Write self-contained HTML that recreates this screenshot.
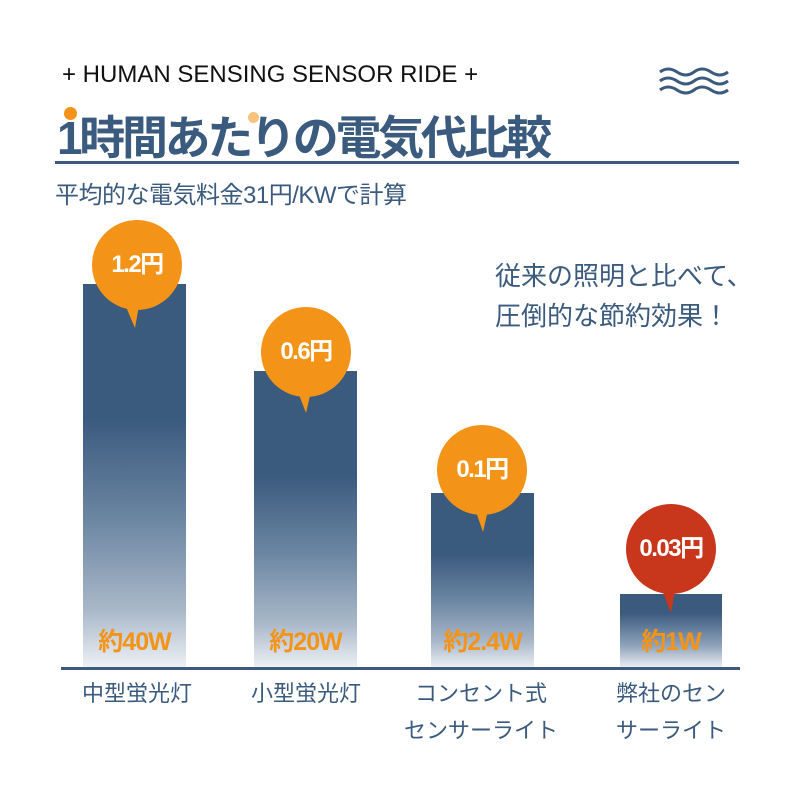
<!DOCTYPE html>
<html><head><meta charset="utf-8"><style>
body{margin:0;width:800px;height:800px;background:#fff;position:relative;overflow:hidden;font-family:"Liberation Sans","Noto Sans CJK JP",sans-serif;}
.a{position:absolute;white-space:nowrap;}
.bar{position:absolute;background:linear-gradient(#3a5a7e 0%,#3a5a7e 35%,#6d87a3 62%,#a9b8c9 85%,#eef1f5 100%);}
.c{position:absolute;width:90px;height:90px;border-radius:50%;background:#f39418;color:#fff;font-weight:bold;font-size:24px;line-height:90px;text-align:center;letter-spacing:-1.5px;}
.w{position:absolute;color:#f39418;font-weight:bold;font-size:25px;text-align:center;letter-spacing:-1px;}
.lab{position:absolute;color:#3a5a7e;font-size:22px;text-align:center;line-height:37px;}
</style></head><body>
<div class="a" style="left:62px;top:61px;font-size:24px;color:#111;">+ HUMAN SENSING SENSOR RIDE +</div>
<svg class="a" style="left:658px;top:66px" width="74" height="30"><g fill="none" stroke="#3a5a7e" stroke-width="3"><path d="M2 6q8-6 17 0t17 0t17 0t17 0"/><path d="M2 15q8-6 17 0t17 0t17 0t17 0"/><path d="M2 24q8-6 17 0t17 0t17 0t17 0"/></g></svg>
<div class="a" style="left:64px;top:107px;width:13px;height:13px;border-radius:50%;background:#f39418"></div>
<div class="a" style="left:248px;top:112px;width:11px;height:11px;border-radius:50%;background:#f8c27a"></div>
<div class="a" style="left:57px;top:102px;font-size:46px;font-weight:bold;color:#3a5a7e;letter-spacing:-3.3px;">1時間あたりの電気代比較</div>
<div class="a" style="left:55px;top:161px;width:684px;height:3px;background:#3a5a7e"></div>
<div class="a" style="left:55px;top:175px;font-size:24px;color:#3a5a7e;letter-spacing:-0.5px;">平均的な電気料金31円/KWで計算</div>
<div class="a" style="left:495px;top:256px;font-size:26px;color:#3a5a7e;line-height:40px;">従来の照明と比べて、<br>圧倒的な節約効果！</div>

<div class="bar" style="left:83px;top:284px;width:103px;height:384px"></div>
<div class="bar" style="left:254px;top:371px;width:103px;height:297px"></div>
<div class="bar" style="left:431px;top:493px;width:103px;height:175px"></div>
<div class="bar" style="left:620px;top:594px;width:102px;height:74px;background:linear-gradient(#3a5a7e 0%,#3a5a7e 25%,#8fa3ba 70%,#eef1f5 100%)"></div>
<div class="a" style="left:61px;top:667px;width:679px;height:3px;background:#3a5a7e"></div>

<svg class="a" style="left:0;top:0" width="800" height="800">
<path d="M123 300L135 328L140 300Z" fill="#f39418"/>
<path d="M296 387L306 413L312 387Z" fill="#f39418"/>
<path d="M474 506L483 532L489 506Z" fill="#f39418"/>
<path d="M660 585L671 613L676 585Z" fill="#c8361c"/>
</svg>
<div class="c" style="left:92px;top:220px">1.2円</div>
<div class="c" style="left:261px;top:307px">0.6円</div>
<div class="c" style="left:437px;top:425px">0.1円</div>
<div class="c" style="left:626px;top:504px;background:#c8361c">0.03円</div>

<div class="w" style="left:80px;top:622px;width:109px">約40W</div>
<div class="w" style="left:251px;top:622px;width:109px">約20W</div>
<div class="w" style="left:428px;top:622px;width:109px">約2.4W</div>
<div class="w" style="left:617px;top:622px;width:108px">約1W</div>

<div class="lab" style="left:57px;top:675px;width:160px">中型蛍光灯</div>
<div class="lab" style="left:226px;top:675px;width:160px">小型蛍光灯</div>
<div class="lab" style="left:396px;top:675px;width:170px">コンセント式<br>センサーライト</div>
<div class="lab" style="left:591px;top:675px;width:160px">弊社のセン<br>サーライト</div>
</body></html>
